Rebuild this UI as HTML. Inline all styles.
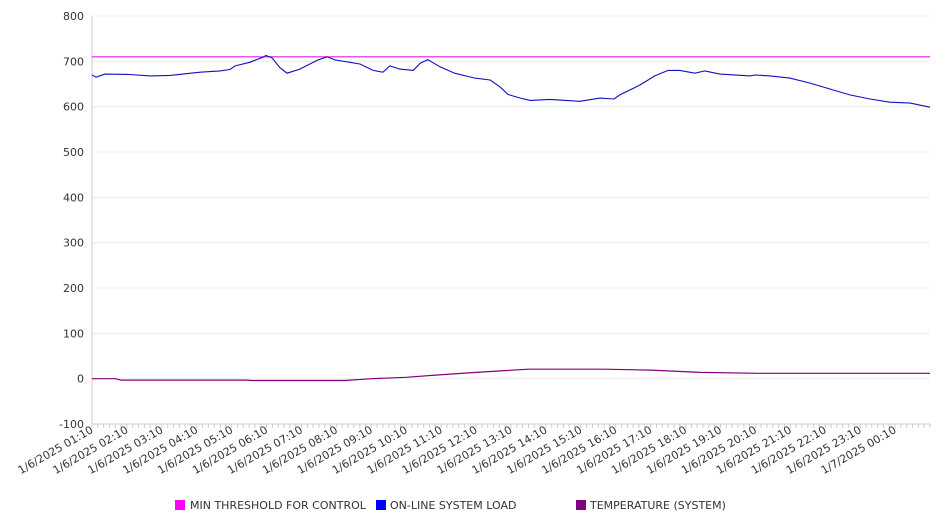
<!DOCTYPE html>
<html><head><meta charset="utf-8">
<style>
html,body{margin:0;padding:0;background:#fff;}
svg{display:block;font-family:"DejaVu Sans","Liberation Sans",sans-serif;}
</style></head>
<body>
<svg id="chart" width="946" height="526" viewBox="0 0 946 526" xmlns="http://www.w3.org/2000/svg">
<g id="grid"></g>
<g id="yaxis"></g>
<g id="xaxis"></g>
<g id="series"></g>
<g font-size="11" fill="#333">
  <g>
    <rect x="175" y="500" width="10" height="10" fill="#ff00ff"/>
    <text x="190" y="509">MIN THRESHOLD FOR CONTROL</text>
  </g>
  <g>
    <rect x="376" y="500" width="10" height="10" fill="#0000ff"/>
    <text x="390" y="509">ON-LINE SYSTEM LOAD</text>
  </g>
  <g>
    <rect x="576" y="500" width="10" height="10" fill="#800080"/>
    <text x="590" y="509">TEMPERATURE (SYSTEM)</text>
  </g>
</g>
</svg>
<script>
// x positions are minutes since 1/6/2025 01:10
const xTickLabels = ["1/6/2025 01:10","1/6/2025 02:10","1/6/2025 03:10","1/6/2025 04:10","1/6/2025 05:10","1/6/2025 06:10","1/6/2025 07:10","1/6/2025 08:10","1/6/2025 09:10","1/6/2025 10:10","1/6/2025 11:10","1/6/2025 12:10","1/6/2025 13:10","1/6/2025 14:10","1/6/2025 15:10","1/6/2025 16:10","1/6/2025 17:10","1/6/2025 18:10","1/6/2025 19:10","1/6/2025 20:10","1/6/2025 21:10","1/6/2025 22:10","1/6/2025 23:10","1/7/2025 00:10"];
const yTicks = [-100,0,100,200,300,400,500,600,700,800];
const thresholdValue = 710;
const loadMinutes = [0,7,22,65,100,134,186,220,237,246,271,285,292,299,309,323,335,357,374,388,404,418,443,461,483,500,512,529,552,564,577,598,623,658,684,701,715,736,753,787,838,873,897,907,942,967,990,1010,1036,1053,1079,1131,1139,1165,1199,1234,1268,1302,1337,1371,1406,1440];
const loadValues = [670,665,672,671,668,669,676,679,682,690,698,705,708,713,708,686,674,683,694,703,710,703,698,694,680,676,690,683,680,696,704,688,674,663,659,644,627,619,614,616,612,619,617,626,648,668,680,680,674,679,672,668,670,668,663,652,639,626,617,610,608,599];
const tempMinutes = [0,40,50,265,275,435,480,540,590,660,750,880,960,1045,1148,1440];
const tempValues = [0,0,-3,-3,-4,-4,0,3,8,14,21,21,19,14,12,12];

const X0=92, X1=930, Y0=378.7, PXU=408/900, TMAX=1440;
const xs = m => X0 + m*(X1-X0)/TMAX;
const ys = v => Y0 - v*PXU;
const NS="http://www.w3.org/2000/svg";
function mk(tag, parent, attrs){const e=document.createElementNS(NS,tag);for(const k in attrs)e.setAttribute(k,attrs[k]);parent.appendChild(e);return e;}

const grid=document.getElementById('grid'), yaxis=document.getElementById('yaxis'), xaxis=document.getElementById('xaxis'), series=document.getElementById('series');
yTicks.forEach(v=>{
  const g=mk('line',grid,{x1:X0,x2:X1,y1:ys(v),y2:ys(v),stroke:'#ececec','stroke-width':1});
  
  
  const t=mk('text',yaxis,{x:84,y:ys(v)+4,'text-anchor':'end','font-size':11,fill:'#333'});
  t.textContent=v;
  
  
});
const ya=mk('line',yaxis,{x1:X0,x2:X0,y1:ys(800),y2:ys(-100),stroke:'#ccc'});


const xa=mk('line',xaxis,{x1:X0,x2:X1,y1:ys(-100),y2:ys(-100),stroke:'#ccc'});


for(let m=0;m<=TMAX;m+=10){
  const tk=mk('line',xaxis,{x1:xs(m),x2:xs(m),y1:ys(-100),y2:ys(-100)+4,stroke:'#ccc'});
  
  
}
xTickLabels.forEach((lab,i)=>{
  const x=xs(i*60)+2, y=ys(-100)+8;
  const t=mk('text',xaxis,{x:x,y:y,'text-anchor':'end','font-size':11,fill:'#333',transform:`rotate(-30 ${x} ${y})`});
  t.textContent=lab;
  
  
});
function path(ms,vs){return ms.map((m,i)=>(i?'L':'M')+xs(m).toFixed(1)+' '+ys(vs[i]).toFixed(1)).join(' ');}
const th=mk('line',series,{x1:X0,x2:X1,y1:ys(thresholdValue),y2:ys(thresholdValue),stroke:'#e020e0','stroke-width':1.2});


const tp=mk('path',series,{d:path(tempMinutes,tempValues),fill:'none',stroke:'#800080','stroke-width':1.2});


const ld=mk('path',series,{d:path(loadMinutes,loadValues),fill:'none',stroke:'#1010c0','stroke-width':1.1});


</script>
</body></html>
